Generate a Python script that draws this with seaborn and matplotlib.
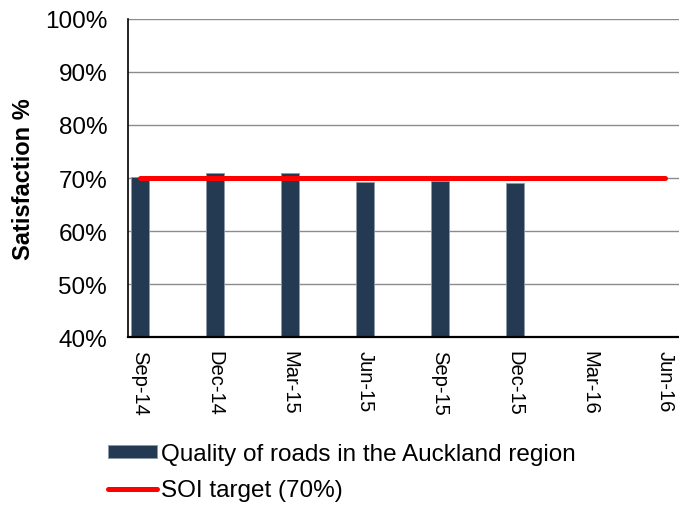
import numpy as np
import pandas as pd
import matplotlib
matplotlib.use('Agg')
import matplotlib.pyplot as plt
import seaborn as sns

# Data
quarters = ['Sep-14', 'Dec-14', 'Mar-15', 'Jun-15', 'Sep-15', 'Dec-15', 'Mar-16', 'Jun-16']
satisfaction = [70.1, 71.0, 70.9, 69.3, 69.5, 69.0, np.nan, np.nan]
target = [70, 70, 70, 70, 70, 70, 70, 70]

bar_label = 'Quality of roads in the Auckland region'
line_label = 'SOI target (70%)'

sns.set_style('white')
plt.rcParams['font.family'] = ['Liberation Sans', 'DejaVu Sans']
plt.rcParams['text.color'] = 'black'
plt.rcParams['axes.labelcolor'] = 'black'
plt.rcParams['xtick.color'] = 'black'
plt.rcParams['ytick.color'] = 'black'

df = pd.DataFrame({'quarter': quarters, 'satisfaction': satisfaction,
                   'pos': np.arange(len(quarters)), 'target': target})

fig = plt.figure(figsize=(6.79, 5.1), dpi=100)
ax = fig.add_axes([0.1885, 0.337, 0.8115, 0.624])

ax.yaxis.grid(True, color='#8c8c8c', linewidth=1.0, zorder=0)
ax.set_axisbelow(True)

sns.barplot(data=df, x='quarter', y='satisfaction', order=quarters, width=0.24,
            color='#243a52', edgecolor='#8a99a8', linewidth=0.6, saturation=1,
            label=bar_label, ax=ax, zorder=2)
sns.lineplot(data=df, x='pos', y='target', color='#ff0000', linewidth=3.6,
             solid_capstyle='round', label=line_label, ax=ax, zorder=3)

ax.set_ylim(40, 100)
ax.set_xlim(-0.16, 7.19)
ax.set_yticks(range(40, 101, 10))
ax.set_yticklabels([f'{v}%' for v in range(40, 101, 10)], fontsize=17.5)
ax.set_xticks(range(len(quarters)))
ax.set_xticklabels(quarters, rotation=270, fontsize=14.5, ha='center', va='top')
ax.tick_params(axis='x', length=0, pad=9)
ax.tick_params(axis='y', length=0, pad=15)
ax.set_xlabel('')
ax.set_ylabel('Satisfaction %', fontsize=17, fontweight='bold', labelpad=7)

for side in ['top', 'right']:
    ax.spines[side].set_visible(False)
ax.spines['left'].set_color('#000000')
ax.spines['left'].set_linewidth(1.2)
ax.spines['bottom'].set_color('#000000')
ax.spines['bottom'].set_linewidth(1.6)

handles, labels = ax.get_legend_handles_labels()
order = [labels.index(bar_label), labels.index(line_label)]
ax.legend([handles[i] for i in order], [labels[i] for i in order],
          loc='upper left', bbox_to_anchor=(0.159, 0.13),
          bbox_transform=fig.transFigure, frameon=False, fontsize=17.5,
          handlelength=2.0, handleheight=0.45, handletextpad=0.18,
          labelspacing=0.6, borderpad=0, borderaxespad=0)

fig.savefig('out.png', dpi=100)
